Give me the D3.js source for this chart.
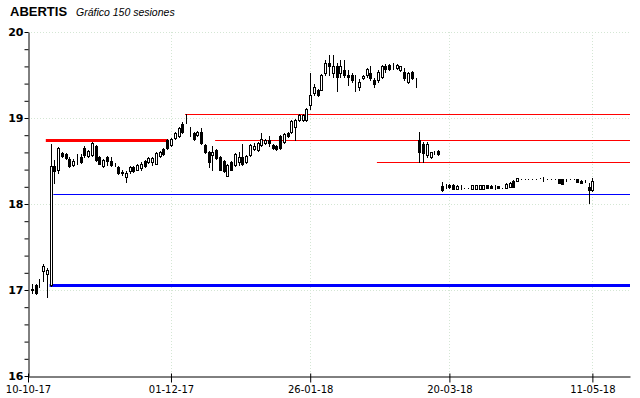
<html>
<head>
<meta charset="utf-8">
<script src="https://d3js.org/d3.v7.min.js"></script>
<style>
  body { margin: 0; background: #fff; }
  svg { display: block; }
</style>
</head>
<body>
<div id="chart"></div>
<script>
// sessions (index 0 = first session)
const opens = [17.01,17.06,17.10,17.22,17.19,17.06,18.44,18.40,18.59,18.58,
  18.52,18.45,18.49,18.55,18.65,18.56,18.57,18.67,18.55,18.44,
  18.55,18.50,18.46,18.43,18.36,18.31,18.38,18.43,18.40,18.42,
  18.50,18.49,18.49,18.47,18.56,18.64,18.75,18.69,18.77,18.79,
  18.93,18.97,18.89,18.83,18.80,18.84,18.69,18.61,18.57,18.63,
  18.55,18.50,18.33,18.49,18.45,18.49,18.55,18.49,18.57,18.64,
  18.63,18.69,18.71,18.75,18.69,18.68,18.79,18.72,18.83,18.84,
  18.89,18.98,18.98,18.98,19.15,19.29,19.33,19.33,19.52,19.64,
  19.52,19.60,19.52,19.56,19.50,19.50,19.47,19.36,19.46,19.50,
  19.52,19.44,19.44,19.48,19.60,19.62,19.62,19.58,19.56,19.54,
  19.42,19.54,19.42,18.74,18.70,18.57,18.55,18.60,18.62,18.21,
  18.21,18.22,18.22,18.18,18.20,18.19,18.19,18.18,18.18,18.18,
  18.18,18.22,18.21,18.20,18.21,18.19,18.19,18.20,18.27,18.27,
  18.29,18.29,18.29,18.29,18.29,18.30,18.29,18.29,18.29,18.29,
  18.29,18.29,18.28,18.29,18.29,18.29,18.27,18.27,18.20,18.16];
const highs = [17.07,17.07,17.13,17.30,17.26,18.70,18.51,18.66,18.61,18.59,
  18.55,18.52,18.58,18.58,18.67,18.63,18.72,18.69,18.56,18.52,
  18.56,18.55,18.48,18.44,18.40,18.38,18.44,18.44,18.46,18.49,
  18.51,18.55,18.55,18.60,18.62,18.65,18.76,18.77,18.84,18.89,
  18.95,19.05,18.89,18.84,18.85,18.88,18.70,18.62,18.67,18.64,
  18.56,18.51,18.46,18.50,18.59,18.61,18.70,18.57,18.70,18.71,
  18.72,18.82,18.76,18.79,18.70,18.69,18.80,18.82,18.84,18.98,
  18.99,19.05,19.05,19.12,19.52,19.40,19.34,19.51,19.67,19.73,
  19.73,19.64,19.68,19.67,19.56,19.52,19.50,19.45,19.50,19.58,
  19.60,19.46,19.56,19.62,19.63,19.63,19.64,19.63,19.61,19.58,
  19.53,19.55,19.46,18.84,18.72,18.72,18.61,18.62,18.63,18.26,
  18.23,18.23,18.23,18.22,18.22,18.19,18.19,18.22,18.22,18.22,
  18.22,18.22,18.22,18.22,18.21,18.19,18.24,18.26,18.28,18.30,
  18.29,18.29,18.29,18.29,18.29,18.30,18.31,18.29,18.29,18.29,
  18.29,18.29,18.29,18.29,18.29,18.29,18.28,18.28,18.24,18.30];
const lows = [16.97,16.95,17.03,17.10,16.92,17.05,18.25,18.36,18.55,18.52,
  18.43,18.44,18.47,18.48,18.55,18.55,18.56,18.50,18.46,18.43,
  18.45,18.44,18.44,18.35,18.34,18.26,18.36,18.37,18.39,18.40,
  18.43,18.48,18.45,18.46,18.55,18.57,18.64,18.68,18.76,18.78,
  18.83,18.94,18.79,18.75,18.79,18.70,18.59,18.43,18.40,18.52,
  18.39,18.37,18.32,18.39,18.44,18.45,18.45,18.48,18.56,18.63,
  18.62,18.68,18.70,18.67,18.64,18.63,18.64,18.71,18.78,18.82,
  18.75,18.97,18.97,18.97,19.11,19.27,19.26,19.32,19.50,19.50,
  19.48,19.31,19.48,19.48,19.38,19.42,19.31,19.33,19.45,19.48,
  19.44,19.36,19.42,19.47,19.54,19.56,19.57,19.57,19.55,19.44,
  19.41,19.45,19.36,18.49,18.49,18.55,18.54,18.58,18.57,18.15,
  18.19,18.19,18.18,18.18,18.18,18.19,18.19,18.18,18.18,18.18,
  18.18,18.19,18.19,18.18,18.19,18.19,18.19,18.20,18.20,18.27,
  18.29,18.29,18.29,18.29,18.29,18.30,18.27,18.29,18.29,18.29,
  18.24,18.23,18.27,18.29,18.29,18.26,18.24,18.26,18.01,18.15];
const closes = [17.00,16.96,17.11,17.28,17.23,18.44,18.38,18.65,18.56,18.53,
  18.44,18.50,18.49,18.49,18.57,18.62,18.71,18.51,18.47,18.51,
  18.50,18.45,18.46,18.36,18.37,18.36,18.43,18.38,18.45,18.47,
  18.44,18.54,18.53,18.59,18.61,18.58,18.65,18.76,18.83,18.88,
  18.84,18.97,18.89,18.76,18.84,18.71,18.60,18.49,18.61,18.53,
  18.40,18.38,18.45,18.40,18.58,18.55,18.47,18.56,18.69,18.68,
  18.71,18.76,18.75,18.71,18.65,18.64,18.65,18.81,18.79,18.96,
  18.98,19.04,19.04,19.11,19.27,19.36,19.27,19.50,19.64,19.60,
  19.60,19.48,19.60,19.50,19.48,19.44,19.47,19.42,19.49,19.57,
  19.46,19.40,19.54,19.60,19.57,19.57,19.62,19.62,19.60,19.46,
  19.52,19.46,19.42,18.61,18.59,18.70,18.60,18.60,18.58,18.16,
  18.21,18.20,18.18,18.21,18.20,18.19,18.19,18.22,18.22,18.22,
  18.22,18.19,18.19,18.20,18.19,18.19,18.23,18.25,18.20,18.30,
  18.29,18.29,18.29,18.29,18.29,18.30,18.29,18.29,18.29,18.29,
  18.24,18.23,18.28,18.29,18.29,18.26,18.24,18.27,18.16,18.27];

const tickSessions = [-1, 37, 74, 111, 149];
const tickLabels = ["10-10-17", "01-12-17", "26-01-18", "20-03-18", "11-05-18"];

// horizontal reference levels: price, first session, last session
const levelValues = [18.74, 19.05, 18.75, 18.49, 18.116, 17.06];
const levelFrom = [4, 41, 49, 92, 6, 5];
const levelTo = [36, 159, 159, 159, 159, 159];

const width = 640, height = 398;
const plotLeft = 28, plotRight = 630, plotTop = 32, plotBottom = 376;

const svg = d3.create('svg')
  .attr('width', width)
  .attr('height', height);

const x = d3.scaleLinear().domain([-1, 159]).range([plotLeft, plotRight]);
const y = d3.scaleLinear().domain([16, 20]).range([plotBottom, plotTop]);

// title
svg.append('text')
  .attr('x', 10).attr('y', 16)
  .attr('font-family', 'Liberation Sans, Arial, sans-serif')
  .attr('font-weight', 'bold').attr('font-size', '13px')
  .text('ABERTIS');
svg.append('text')
  .attr('x', 76).attr('y', 16)
  .attr('font-family', 'Liberation Sans, Arial, sans-serif')
  .attr('font-style', 'italic').attr('font-size', '10.5px')
  .text('Gráfico 150 sesiones');

// grid
const grid = svg.append('g').attr('stroke', '#d4e6d4').attr('stroke-dasharray', '1,2');
grid.selectAll('line.h')
  .data([17, 18, 19, 20])
  .join('line')
  .attr('class', 'h')
  .attr('x1', plotLeft).attr('x2', plotRight)
  .attr('y1', d => Math.round(y(d)) + 0.5).attr('y2', d => Math.round(y(d)) + 0.5);
grid.selectAll('line.v')
  .data(tickSessions.slice(1))
  .join('line')
  .attr('class', 'v')
  .attr('x1', d => Math.round(x(d)) + 0.5).attr('x2', d => Math.round(x(d)) + 0.5)
  .attr('y1', plotTop).attr('y2', plotBottom);

// reference levels
const levelColor = ['#ff0000', '#ff0000', '#ff0000', '#ff0000', '#0000ff', '#0000ff'];
const levelWidth = [3, 1, 1, 1, 1, 3];
svg.append('g')
  .selectAll('line')
  .data(levelValues.map((v, i) => ({v, i})))
  .join('line')
  .attr('x1', d => x(levelFrom[d.i]) - 1)
  .attr('x2', d => Math.min(x(levelTo[d.i]) + 1, plotRight))
  .attr('y1', d => Math.round(y(d.v)) + 0.5)
  .attr('y2', d => Math.round(y(d.v)) + 0.5)
  .attr('stroke', d => levelColor[d.i])
  .attr('stroke-width', d => levelWidth[d.i]);

// candles
const data = opens.map((o, i) => ({i, o, h: highs[i], l: lows[i], c: closes[i]}));
const candles = svg.append('g')
  .selectAll('g')
  .data(data)
  .join('g')
  .attr('shape-rendering', 'crispEdges');
candles.append('line')
  .attr('x1', d => Math.round(x(d.i)) + 0.5)
  .attr('x2', d => Math.round(x(d.i)) + 0.5)
  .attr('y1', d => Math.round(y(d.h)))
  .attr('y2', d => Math.round(y(d.l)) + 1)
  .attr('stroke', 'black');
candles.append('rect')
  .attr('x', d => Math.round(x(d.i)) - 0.5)
  .attr('width', 2)
  .attr('y', d => Math.round(y(Math.max(d.o, d.c))) + 0.5)
  .attr('height', d => Math.round(y(Math.min(d.o, d.c))) - Math.round(y(Math.max(d.o, d.c))))
  .attr('fill', d => d.c >= d.o ? 'white' : 'black')
  .attr('stroke', 'black');

// y axis
const yAxis = svg.append('g')
  .attr('transform', `translate(${plotLeft + 0.5}, 0)`)
  .call(d3.axisLeft(y)
    .tickValues(d3.range(0, 21).map(k => 16 + k * 0.2))
    .tickSize(4).tickSizeOuter(0)
    .tickFormat(d => Math.abs(d - Math.round(d)) < 1e-6 ? d3.format('d')(Math.round(d)) : ''));
yAxis.selectAll('text')
  .attr('font-family', 'DejaVu Sans, Verdana, sans-serif')
  .attr('font-weight', 'bold').attr('font-size', '11px').attr('fill', 'black')
  .attr('x', -5);
yAxis.selectAll('line, path').attr('stroke', 'black');

// x axis
const xAxis = svg.append('g')
  .attr('transform', `translate(0, ${plotBottom + 0.5})`)
  .call(d3.axisBottom(x)
    .tickValues(tickSessions)
    .tickFormat((d, i) => tickLabels[i])
    .tickSize(6).tickSizeOuter(0));
xAxis.selectAll('.tick line').attr('y1', -3);
xAxis.selectAll('text')
  .attr('font-family', 'DejaVu Sans, Verdana, sans-serif')
  .attr('font-size', '10px').attr('fill', 'black')
  .attr('y', 9);
xAxis.selectAll('line, path').attr('stroke', 'black');

document.getElementById('chart').appendChild(svg.node());
</script>
</body>
</html>
